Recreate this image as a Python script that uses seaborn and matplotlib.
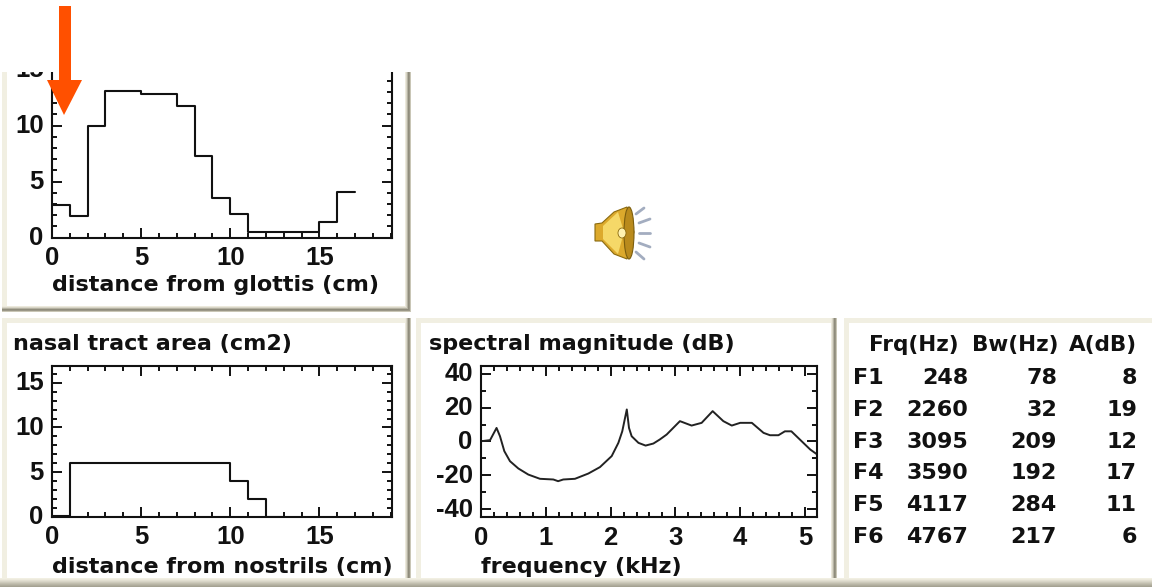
import numpy as np
import seaborn as sns
import matplotlib.pyplot as plt
from matplotlib.patches import Rectangle, Polygon, Ellipse
from matplotlib.ticker import MultipleLocator
from matplotlib.transforms import ScaledTranslation

W, H = 1152, 587

# vocal tract area, one value per 1 cm section
glottis_edges = list(range(18))
glottis_area = [2.9, 1.9, 10, 13.1, 13.1, 12.85, 12.85, 11.8, 7.3, 3.55, 2.1, 0.55, 0.55, 0.55, 0.55, 1.4, 4.1]

# nasal tract area
nostril_edges = list(range(14))
nostril_area = [0.1, 6, 6, 6, 6, 6, 6, 6, 6, 6, 4, 2, 0]

# spectrum
freq_khz = [0.01, 0.14, 0.24, 0.293, 0.36, 0.447, 0.576, 0.73, 0.91, 1.116, 1.19, 1.27, 1.45, 1.656,
            1.836, 2.017, 2.12, 2.18, 2.25, 2.284, 2.325, 2.43, 2.54, 2.66, 2.76, 2.865, 3.07,
            3.25, 3.405, 3.575, 3.74, 3.87, 4.0, 4.18, 4.36, 4.46, 4.59, 4.69, 4.79, 5.08, 5.19]
mag_db = [0.2, 0.8, 8, 3.1, -5.7, -11.6, -15.9, -19.5, -22, -22.4, -23.4, -22.4, -22, -18.9,
          -15.1, -8.6, -0.8, 6, 18.9, 8, 3.1, -0.8, -2.4, -1.2, 1.2, 4.1, 12,
          9.4, 11, 17.9, 12, 9.4, 11, 11, 5.1, 3.7, 3.7, 6, 6, -4.7, -7.7]

# formant table
formants = ["F1", "F2", "F3", "F4", "F5", "F6"]
frq_hz = [248, 2260, 3095, 3590, 4117, 4767]
bw_hz = [78, 32, 209, 192, 284, 217]
amp_db = [8, 19, 12, 17, 11, 6]

sns.set_theme(style="white")
plt.rcParams["font.family"] = ["DejaVu Sans"]
plt.rcParams["font.weight"] = "bold"
plt.rcParams["text.color"] = "#111111"
plt.rcParams["axes.unicode_minus"] = False

fig = plt.figure(figsize=(W / 100, H / 100), dpi=100, facecolor="white")


def pixel_axes(zorder):
    a = fig.add_axes([0, 0, 1, 1], zorder=zorder)
    a.set_xlim(0, W)
    a.set_ylim(H, 0)
    a.axis("off")
    a.patch.set_alpha(0)
    return a


def panel(a, x0, y0, x1, y1):
    # raised frame, shaded right and bottom, beige left and top
    shades = ["#c9c6b6", "#9a9787", "#8f8c7c", "#b5b2a2", "#d8d5c7", "#ece9dc"]
    for i, c in enumerate(shades):
        a.add_patch(Rectangle((x0, y0), x1 - x0 - i, y1 - y0 - i, fc=c, ec="none"))
    a.add_patch(Rectangle((x0, y0), x1 - x0 - 6, y1 - y0 - 6, fc="#f1efe2", ec="none"))
    a.add_patch(Rectangle((x0 + 5, y0 + 5), x1 - x0 - 11, y1 - y0 - 11, fc="white", ec="none"))


back = pixel_axes(0)
panel(back, 2, 60, 411, 312)
panel(back, 2, 318, 411, 590)
panel(back, 416, 318, 837, 590)
panel(back, 844, 318, W + 8, 590)
for y, c in zip(range(578, 587), ["#f1efe2", "#ece9dc", "#e2dfd1", "#d8d5c7", "#cdcabb", "#c2bfaf", "#b8b5a5", "#aeab9b", "#a5a292"]):
    back.add_patch(Rectangle((0, y), W, 1.2, fc=c, ec="none"))


def plot_axes(left, top, right, bottom):
    return fig.add_axes([left / W, 1 - bottom / H, (right - left) / W, (bottom - top) / H], zorder=2)


def style(ax, xmajor, xminor, ymajor, yminor):
    ax.patch.set_alpha(0)
    ax.xaxis.set_major_locator(MultipleLocator(xmajor))
    ax.xaxis.set_minor_locator(MultipleLocator(xminor))
    ax.yaxis.set_major_locator(MultipleLocator(ymajor))
    ax.yaxis.set_minor_locator(MultipleLocator(yminor))
    ax.tick_params(which="both", direction="in", top=True, bottom=True, left=True, right=True,
                   color="#111111", width=1.4, labelcolor="#111111")
    ax.tick_params(which="major", length=7.5, labelsize=18.5, pad=6)
    ax.tick_params(which="minor", length=3.5)
    for s in ax.spines.values():
        s.set_visible(True)
        s.set_color("#111111")
        s.set_linewidth(1.5)
    ax.set_xlabel("")
    ax.set_ylabel("")


def finish_labels(ax):
    # tick digits sit a little higher than the tick
    up = ScaledTranslation(0, 2 / 100, fig.dpi_scale_trans)
    for lab in ax.get_xticklabels() + ax.get_yticklabels():
        lab.set_family("Liberation Sans")
        lab.set_fontweight("bold")
    for lab in ax.get_yticklabels():
        lab.set_transform(lab.get_transform() + up)


def area_plot(ax, edges, area, xlabel, pad):
    sns.lineplot(x=edges, y=area + [area[-1]], drawstyle="steps-post", estimator=None, sort=False,
                 color="#111111", linewidth=1.5, ax=ax)
    ax.set_xlim(0, 19.05)
    style(ax, 5, 1, 5, 1)
    ax.set_xlabel(xlabel, fontsize=16, fontweight="bold", x=0, ha="left", labelpad=pad, color="#111111")


# top panel runs on above the crop line, the front mask hides the rest
ax1 = plot_axes(52, 47.7, 391.5, 237.7)
area_plot(ax1, glottis_edges, glottis_area, "distance from glottis (cm)", 3.5)
ax1.set_ylim(0, 16.96)
finish_labels(ax1)

ax2 = plot_axes(52, 365.7, 391.5, 517)
area_plot(ax2, nostril_edges, nostril_area, "distance from nostrils (cm)", 5.5)
ax2.set_ylim(0, 16.9)
ax2.set_title("nasal tract area (cm2)", fontsize=16, fontweight="bold", loc="left", x=-0.115, pad=11, color="#111111")
finish_labels(ax2)

ax3 = plot_axes(481, 365.7, 817.3, 517.3)
sns.lineplot(x=freq_khz, y=mag_db, estimator=None, sort=False, color="#222222", linewidth=1.4, ax=ax3)
ax3.set_xlim(0, 5.19)
ax3.set_ylim(-44.7, 44.7)
style(ax3, 1, 0.2, 20, 10)
ax3.set_xlabel("frequency (kHz)", fontsize=16, fontweight="bold", x=0, ha="left", labelpad=5, color="#111111")
ax3.set_title("spectral magnitude (dB)", fontsize=16, fontweight="bold", loc="left", x=-0.155, pad=11, color="#111111")
finish_labels(ax3)

front = pixel_axes(5)
front.add_patch(Rectangle((0, 0), 420, 72, fc="white", ec="none"))

# formant table
for label, x, ha in [("Frq(Hz)", 869, "left"), ("Bw(Hz)", 972, "left"), ("A(dB)", 1137, "right")]:
    front.text(x, 345, label, fontsize=15.5, ha=ha, va="center", fontweight="bold")
rows = np.arange(len(formants)) * 31.8 + 378
for y, f, fr, bw, amp in zip(rows, formants, frq_hz, bw_hz, amp_db):
    front.text(853, y, f, fontsize=16, ha="left", va="center", fontweight="bold")
    front.text(968, y, str(fr), fontsize=16, ha="right", va="center", fontweight="bold")
    front.text(1057, y, str(bw), fontsize=16, ha="right", va="center", fontweight="bold")
    front.text(1137, y, str(amp), fontsize=16, ha="right", va="center", fontweight="bold")

# orange arrow
front.add_patch(Polygon([(59, 6), (71, 6), (71, 80), (82, 80), (64, 115), (47, 80), (59, 80)], fc="#ff5000", ec="none"))

# speaker icon
front.add_patch(Polygon([(595, 224), (602, 223), (614, 212), (627, 207), (634, 232), (627, 259),
                         (614, 254), (602, 241), (595, 241)], fc="#dca92c", ec="#8a6a10", lw=0.8))
front.add_patch(Polygon([(603, 226), (618, 212), (624, 232), (618, 254), (603, 239)], fc="#f5d868", ec="none"))
front.add_patch(Ellipse((629, 233), 10, 52, fc="#b98a1c", ec="#7c5e0e", lw=0.8))
front.add_patch(Ellipse((622, 233), 8, 10, fc="#fff2b0", ec="#8a6a10", lw=0.6))
for x0, y0, x1, y1 in [(636, 214, 644, 208), (639, 223, 650, 219), (639, 233, 650, 233), (639, 243, 650, 247), (636, 252, 644, 259)]:
    front.plot([x0, x1], [y0, y1], color="#a3adc0", lw=2, solid_capstyle="round")

fig.savefig("out.png", dpi=100)
